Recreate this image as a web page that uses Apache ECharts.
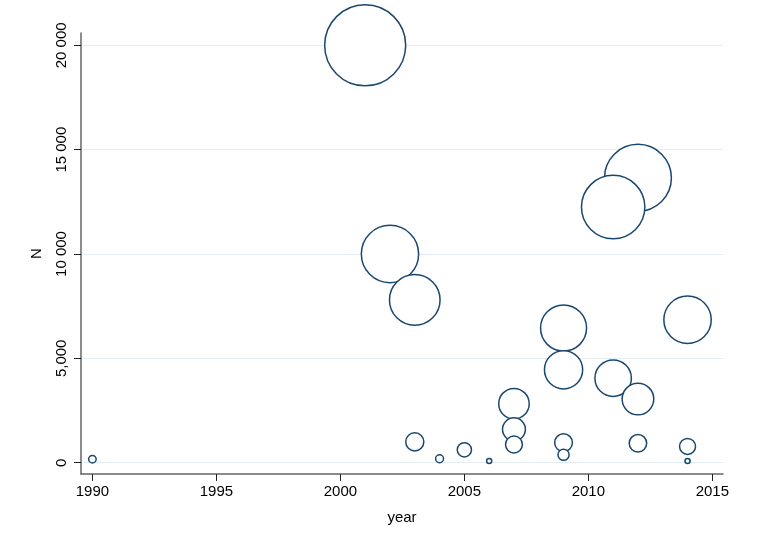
<!DOCTYPE html>
<html>
<head>
<meta charset="utf-8">
<script src="https://cdn.jsdelivr.net/npm/echarts@6/dist/echarts.min.js"></script>
<style>
html,body{margin:0;padding:0;background:#fff;}
#c{width:758px;height:538px;}
</style>
</head>
<body>
<div id="c"></div>
<script>
// Data, in drawing order
var years = [1990, 2001, 2002, 2003, 2003, 2004, 2005, 2006, 2007, 2007, 2007, 2009, 2009, 2009, 2009, 2012, 2011, 2011, 2012, 2012, 2014, 2014, 2014];
var nValues = [170, 20000, 10000, 7800, 1000, 190, 620, 80, 2830, 1600, 870, 6450, 4450, 960, 380, 13650, 12250, 4050, 3050, 930, 6850, 780, 80];
var xTicks = [1990, 1995, 2000, 2005, 2010, 2015];
var yTicks = [0, 5000, 10000, 15000, 20000];
var yTickLabels = ['0', '5,000', '10 000', '15 000', '20 000'];

var points = years.map(function (y, i) { return [y, nValues[i]]; });
var maxN = 20000, maxDiam = 81;

var font = '"Liberation Sans", Arial, Helvetica, sans-serif';
var chart = echarts.init(document.getElementById('c'), null, {renderer: 'canvas'});
chart.setOption({
  backgroundColor: '#ffffff',
  animation: false,
  grid: {left: 81, right: 35, top: 33, bottom: 64, containLabel: false},
  xAxis: {
    type: 'value',
    min: 1989.54, max: 2015.43,
    name: 'year', nameLocation: 'middle', nameGap: 36,
    nameTextStyle: {fontFamily: font, fontSize: 15, color: '#000'},
    axisLine: {show: true, onZero: false, lineStyle: {color: '#666666', width: 1.5}},
    axisTick: {show: true, inside: false, length: 7, customValues: xTicks, lineStyle: {color: '#222', width: 1}},
    axisLabel: {customValues: xTicks, margin: 10, fontFamily: font, fontSize: 15, color: '#000',
      formatter: function (v) { return String(v); }},
    splitLine: {show: false}
  },
  yAxis: {
    type: 'value',
    min: -541, max: 20589,
    name: 'N', nameLocation: 'middle', nameGap: 37, nameRotate: 90,
    nameTextStyle: {fontFamily: font, fontSize: 15, color: '#000'},
    axisLine: {show: true, onZero: false, lineStyle: {color: '#666666', width: 1.5}},
    axisTick: {show: true, inside: false, length: 7, customValues: yTicks, lineStyle: {color: '#222', width: 1}},
    axisLabel: {customValues: yTicks, rotate: 90, margin: 12, fontFamily: font, fontSize: 15, color: '#000',
      formatter: function (v) { var i = yTicks.indexOf(v); return i >= 0 ? yTickLabels[i] : ''; }},
    splitLine: {show: true, lineStyle: {color: '#e4edf1', width: 1.2}}
  },
  series: [{
    type: 'scatter',
    data: points,
    clip: false,
    symbol: 'circle',
    symbolSize: function (d) { return Math.max(4, maxDiam * Math.sqrt(d[1] / maxN)); },
    itemStyle: {color: '#ffffff', borderColor: '#1a476f', borderWidth: 1.5, opacity: 1},
    emphasis: {disabled: true}
  }]
});
</script>
</body>
</html>
